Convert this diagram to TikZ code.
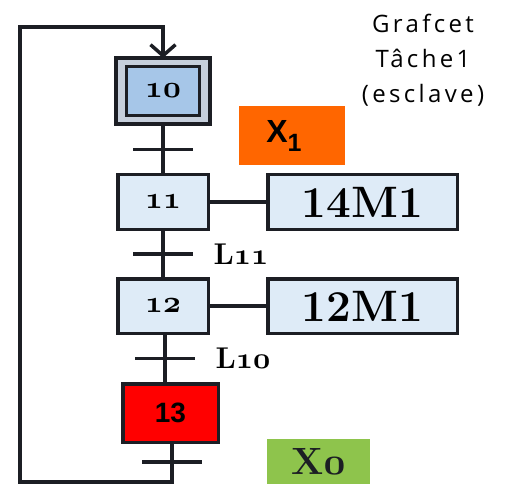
\RequirePackage{fix-cm}
\documentclass[tikz,border=0pt]{standalone}
\usepackage{fontspec}
\setsansfont{Liberation Sans}
\newfontfamily\handfont[LetterSpace=14]{Open Sans}
\usetikzlibrary{arrows.meta, positioning}

\definecolor{ink}{RGB}{28,30,36}
\definecolor{stepblue}{RGB}{222,235,247}
\definecolor{initblue}{RGB}{166,198,232}
\definecolor{initgap}{RGB}{198,207,220}
\definecolor{flagorange}{RGB}{255,102,0}
\definecolor{flaggreen}{RGB}{142,196,76}

% hanging figures for step numbers and conditions
\newcommand\osf[1]{{\usefont{OML}{cmm}{b}{it}#1}}

\begin{document}
\begin{tikzpicture}[
    x=1pt, y=-1pt,
    etape/.style={rectangle, draw=ink, line width=3.5pt, fill=stepblue, minimum width=90.5pt, minimum height=54.5pt, inner sep=0pt, outer sep=0pt, font=\bfseries\fontsize{31}{31}\selectfont},
    action/.style={etape, minimum width=189.5pt, font=\bfseries\fontsize{44}{44}\selectfont},
    link/.style={draw=ink, line width=3.5pt},
    loop/.style={link, -{Straight Barb[length=11pt, width=25pt]}},
    trans/.style={rectangle, fill=ink, minimum width=60pt, minimum height=3.5pt, inner sep=0pt},
    cond/.style={font=\bfseries\fontsize{30}{30}\selectfont, inner sep=0pt, xshift=17pt},
    flag/.style={rectangle, inner sep=0pt, outer sep=0pt}
]
\useasboundingbox (0,0) rectangle (509,484);
% ---------------- STEPS ----------------
\node[etape, fill=initgap, minimum width=94pt, minimum height=66pt] (s10) at (163,91) {};
\node[etape, fill=initblue, line width=3pt, minimum width=73pt, minimum height=49pt] (s10in) at (s10) {\osf{10}};
\node[etape] (s11) at (163,202) {\osf{11}};
\node[etape] (s12) at (163,306) {\osf{12}};
\node[etape, fill=red, minimum width=95.5pt, minimum height=58.5pt, font=\sffamily\bfseries\fontsize{28}{28}\selectfont] (s13) at (170.5,413) {13};
% ---------------- ACTIONS ----------------
\node[action, right=59.5pt of s11] (a11) {14M1};
\node[action, right=59.5pt of s12] (a12) {12M1};
\draw[link] (s11) -- (a11);
\draw[link] (s12) -- (a12);
% ---------------- TRANSITIONS ----------------
\coordinate (bl) at (20,482);
\coordinate (tl) at (20,27);
\draw[link] (s10) -- node[trans] {} (s11);
\draw[link] (s11) -- node[trans, label={[cond]right:L\osf{11}}] {} (s12);
\draw[link] ([xshift=2pt]s12.south) -- node[trans, label={[cond]right:L\osf{10}}] {} ([xshift=2pt]s12.south |- s13.north);
% return to the initial step
\draw[loop] ([xshift=1.5pt]s13.south) -- node[trans] {} ([xshift=1.5pt]s13.south |- bl) -- (bl) -- (tl) -| (s10.north);
% ---------------- MARKERS ----------------
\node[flag, fill=flagorange, minimum width=106pt, minimum height=59pt] (x1) at (292,135.5) {};
\node[font=\sffamily\bfseries\fontsize{32}{32}\selectfont, inner sep=0pt] at ([xshift=-8pt]x1.center) {X\raisebox{-9pt}{\fontsize{25}{25}\selectfont 1}};
\node[flag, fill=flaggreen, minimum width=103pt, minimum height=45pt, font=\bfseries\fontsize{38}{38}\selectfont, text=ink] (x0) at (318.5,461.5) {X\osf{0}};
\node[align=center, font=\handfont\fontsize{24}{35}\selectfont] (title) at (423,60) {Grafcet\\Tâche1\\(esclave)};
\end{tikzpicture}
\end{document}
